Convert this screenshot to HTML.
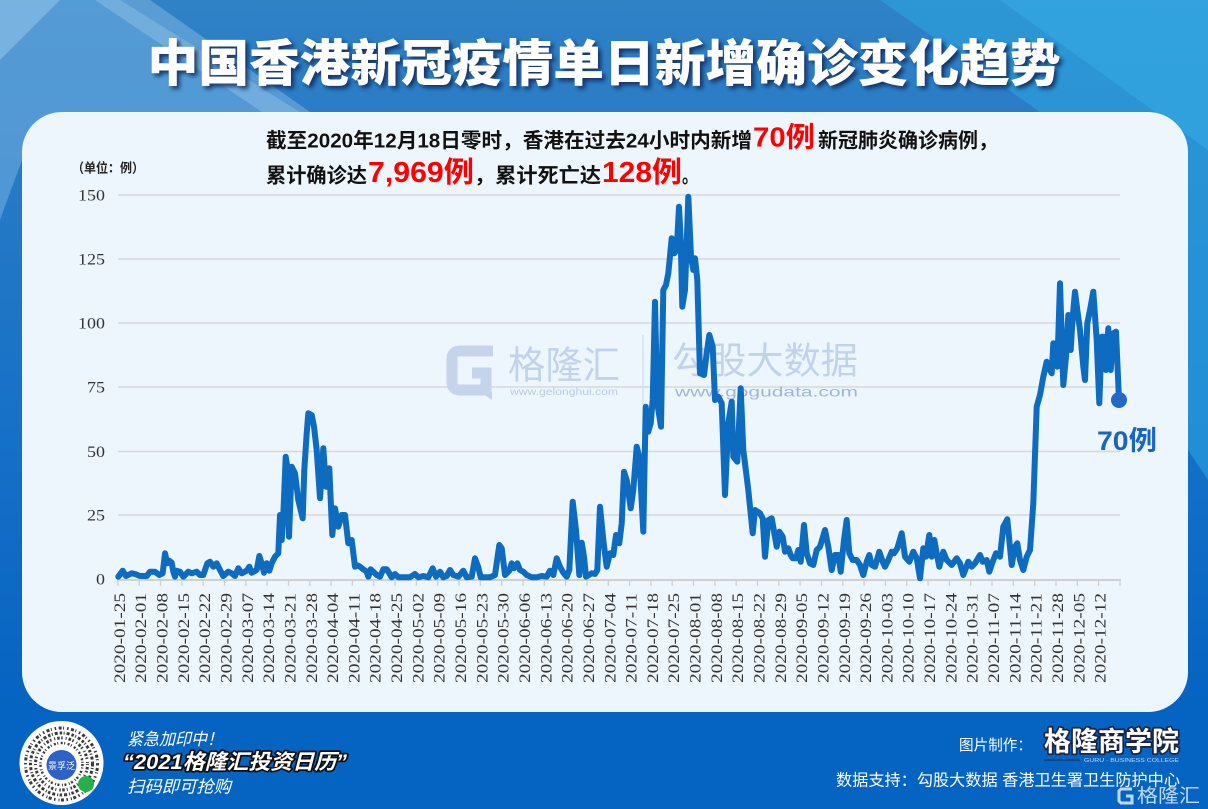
<!DOCTYPE html>
<html><head><meta charset="utf-8"><style>
html,body{margin:0;padding:0;width:1208px;height:809px;overflow:hidden;background:#0563c1}
svg{display:block}
.cj{font-family:"Liberation Sans","Noto Sans CJK SC",sans-serif}
.sf{font-family:"Liberation Serif","DejaVu Serif",serif}
</style></head><body>
<svg width="1208" height="809" viewBox="0 0 1208 809" xmlns="http://www.w3.org/2000/svg">
<defs>
<linearGradient id="bg" x1="0" y1="0" x2="0" y2="1">
<stop offset="0" stop-color="#2f82c6"/><stop offset="0.15" stop-color="#2a7cc6"/><stop offset="0.55" stop-color="#1570c7"/><stop offset="0.88" stop-color="#0563c1"/><stop offset="1" stop-color="#0563c1"/>
</linearGradient>
<filter id="sh" x="-5%" y="-30%" width="110%" height="160%"><feDropShadow dx="3" dy="3" stdDeviation="2" flood-color="#0a2553" flood-opacity="0.85"/></filter>
</defs>
<rect width="1208" height="809" fill="url(#bg)"/>
<polygon points="0,0 120,0 300,112 22,160 0,220" fill="#7ab6e4" opacity="0.5"/>
<polygon points="95,0 150,0 310,112 262,112" fill="#a9d0ef" opacity="0.35"/>
<polygon points="0,0 60,0 0,60" fill="#9ccaec" opacity="0.5"/>
<polygon points="880,0 1208,0 1208,480 1188,450 1040,112" fill="#2ba8e2" opacity="0.55"/>
<polygon points="1000,0 1208,0 1208,150" fill="#3cb4ea" opacity="0.4"/>

<text class="cj" x="604" y="81" text-anchor="middle" font-size="50" font-weight="900" fill="#ffffff" textLength="913" lengthAdjust="spacingAndGlyphs" filter="url(#sh)">中国香港新冠疫情单日新增确诊变化趋势</text>

<rect x="22" y="112" width="1166" height="600" rx="40" ry="40" fill="#eef6fd"/>

<!-- annotation -->
<g class="cj" font-weight="bold" fill="#111">
<text x="266" y="147.5" font-size="20.5" textLength="486" lengthAdjust="spacingAndGlyphs">截至2020年12月18日零时，香港在过去24小时内新增</text>
<text x="753" y="146.5" font-size="28" fill="#ff0000" textLength="62" lengthAdjust="spacingAndGlyphs">70例</text>
<text x="818" y="147.5" font-size="20.5" textLength="180" lengthAdjust="spacingAndGlyphs">新冠肺炎确诊病例，</text>
<text x="266" y="182.5" font-size="20.5" textLength="101" lengthAdjust="spacingAndGlyphs">累计确诊达</text>
<text x="368" y="182" font-size="29" fill="#ff0000" textLength="106" lengthAdjust="spacingAndGlyphs">7,969例</text>
<text x="474" y="182.5" font-size="20.5" textLength="127" lengthAdjust="spacingAndGlyphs">，累计死亡达</text>
<text x="602" y="182" font-size="29" fill="#ff0000" textLength="80" lengthAdjust="spacingAndGlyphs">128例</text>
<text x="682" y="182.5" font-size="20.5" textLength="16" lengthAdjust="spacingAndGlyphs">。</text>
<text x="72" y="172.5" font-size="13" fill="#222" textLength="72" lengthAdjust="spacingAndGlyphs">（单位：例）</text>
</g>

<!-- grid -->
<g stroke="#d5d8db" stroke-width="1.6">
<line x1="118" y1="195" x2="1120" y2="195"/>
<line x1="118" y1="259" x2="1120" y2="259"/>
<line x1="118" y1="323" x2="1120" y2="323"/>
<line x1="118" y1="387" x2="1120" y2="387"/>
<line x1="118" y1="451.5" x2="1120" y2="451.5"/>
<line x1="118" y1="515" x2="1120" y2="515"/>
</g>
<line x1="117" y1="580" x2="1121" y2="580" stroke="#d0d0d0" stroke-width="2"/>
<path stroke="#cfcfcf" stroke-width="1.3" fill="none" d="M117.9,580v6M139.2,580v6M160.5,580v6M181.9,580v6M203.2,580v6M224.5,580v6M245.8,580v6M267.1,580v6M288.5,580v6M309.8,580v6M331.1,580v6M352.4,580v6M373.7,580v6M395.1,580v6M416.4,580v6M437.7,580v6M459,580v6M480.3,580v6M501.7,580v6M523,580v6M544.3,580v6M565.6,580v6M586.9,580v6M608.3,580v6M629.6,580v6M650.9,580v6M672.2,580v6M693.5,580v6M714.9,580v6M736.2,580v6M757.5,580v6M778.8,580v6M800.1,580v6M821.5,580v6M842.8,580v6M864.1,580v6M885.4,580v6M906.7,580v6M928.1,580v6M949.4,580v6M970.7,580v6M992,580v6M1013.3,580v6M1034.7,580v6M1056,580v6M1077.3,580v6M1098.6,580v6M1120,580v6"/>

<!-- y labels -->
<g class="sf" font-size="16" fill="#333" text-anchor="end">
<text x="105" y="200.5" textLength="27" lengthAdjust="spacingAndGlyphs">150</text>
<text x="105" y="264.5" textLength="27" lengthAdjust="spacingAndGlyphs">125</text>
<text x="105" y="328.5" textLength="27" lengthAdjust="spacingAndGlyphs">100</text>
<text x="105" y="392.5" textLength="18" lengthAdjust="spacingAndGlyphs">75</text>
<text x="105" y="457" textLength="18" lengthAdjust="spacingAndGlyphs">50</text>
<text x="105" y="520.5" textLength="18" lengthAdjust="spacingAndGlyphs">25</text>
<text x="105" y="584.5" textLength="9" lengthAdjust="spacingAndGlyphs">0</text>
</g>

<!-- x labels -->
<g class="sf" font-size="16" fill="#333">
<text transform="translate(124.9,683) rotate(-90)" textLength="90" lengthAdjust="spacingAndGlyphs">2020-01-25</text>
<text transform="translate(146.2,683) rotate(-90)" textLength="90" lengthAdjust="spacingAndGlyphs">2020-02-01</text>
<text transform="translate(167.5,683) rotate(-90)" textLength="90" lengthAdjust="spacingAndGlyphs">2020-02-08</text>
<text transform="translate(188.9,683) rotate(-90)" textLength="90" lengthAdjust="spacingAndGlyphs">2020-02-15</text>
<text transform="translate(210.2,683) rotate(-90)" textLength="90" lengthAdjust="spacingAndGlyphs">2020-02-22</text>
<text transform="translate(231.5,683) rotate(-90)" textLength="90" lengthAdjust="spacingAndGlyphs">2020-02-29</text>
<text transform="translate(252.8,683) rotate(-90)" textLength="90" lengthAdjust="spacingAndGlyphs">2020-03-07</text>
<text transform="translate(274.1,683) rotate(-90)" textLength="90" lengthAdjust="spacingAndGlyphs">2020-03-14</text>
<text transform="translate(295.5,683) rotate(-90)" textLength="90" lengthAdjust="spacingAndGlyphs">2020-03-21</text>
<text transform="translate(316.8,683) rotate(-90)" textLength="90" lengthAdjust="spacingAndGlyphs">2020-03-28</text>
<text transform="translate(338.1,683) rotate(-90)" textLength="90" lengthAdjust="spacingAndGlyphs">2020-04-04</text>
<text transform="translate(359.4,683) rotate(-90)" textLength="90" lengthAdjust="spacingAndGlyphs">2020-04-11</text>
<text transform="translate(380.7,683) rotate(-90)" textLength="90" lengthAdjust="spacingAndGlyphs">2020-04-18</text>
<text transform="translate(402.1,683) rotate(-90)" textLength="90" lengthAdjust="spacingAndGlyphs">2020-04-25</text>
<text transform="translate(423.4,683) rotate(-90)" textLength="90" lengthAdjust="spacingAndGlyphs">2020-05-02</text>
<text transform="translate(444.7,683) rotate(-90)" textLength="90" lengthAdjust="spacingAndGlyphs">2020-05-09</text>
<text transform="translate(466,683) rotate(-90)" textLength="90" lengthAdjust="spacingAndGlyphs">2020-05-16</text>
<text transform="translate(487.3,683) rotate(-90)" textLength="90" lengthAdjust="spacingAndGlyphs">2020-05-23</text>
<text transform="translate(508.7,683) rotate(-90)" textLength="90" lengthAdjust="spacingAndGlyphs">2020-05-30</text>
<text transform="translate(530,683) rotate(-90)" textLength="90" lengthAdjust="spacingAndGlyphs">2020-06-06</text>
<text transform="translate(551.3,683) rotate(-90)" textLength="90" lengthAdjust="spacingAndGlyphs">2020-06-13</text>
<text transform="translate(572.6,683) rotate(-90)" textLength="90" lengthAdjust="spacingAndGlyphs">2020-06-20</text>
<text transform="translate(593.9,683) rotate(-90)" textLength="90" lengthAdjust="spacingAndGlyphs">2020-06-27</text>
<text transform="translate(615.3,683) rotate(-90)" textLength="90" lengthAdjust="spacingAndGlyphs">2020-07-04</text>
<text transform="translate(636.6,683) rotate(-90)" textLength="90" lengthAdjust="spacingAndGlyphs">2020-07-11</text>
<text transform="translate(657.9,683) rotate(-90)" textLength="90" lengthAdjust="spacingAndGlyphs">2020-07-18</text>
<text transform="translate(679.2,683) rotate(-90)" textLength="90" lengthAdjust="spacingAndGlyphs">2020-07-25</text>
<text transform="translate(700.5,683) rotate(-90)" textLength="90" lengthAdjust="spacingAndGlyphs">2020-08-01</text>
<text transform="translate(721.9,683) rotate(-90)" textLength="90" lengthAdjust="spacingAndGlyphs">2020-08-08</text>
<text transform="translate(743.2,683) rotate(-90)" textLength="90" lengthAdjust="spacingAndGlyphs">2020-08-15</text>
<text transform="translate(764.5,683) rotate(-90)" textLength="90" lengthAdjust="spacingAndGlyphs">2020-08-22</text>
<text transform="translate(785.8,683) rotate(-90)" textLength="90" lengthAdjust="spacingAndGlyphs">2020-08-29</text>
<text transform="translate(807.1,683) rotate(-90)" textLength="90" lengthAdjust="spacingAndGlyphs">2020-09-05</text>
<text transform="translate(828.5,683) rotate(-90)" textLength="90" lengthAdjust="spacingAndGlyphs">2020-09-12</text>
<text transform="translate(849.8,683) rotate(-90)" textLength="90" lengthAdjust="spacingAndGlyphs">2020-09-19</text>
<text transform="translate(871.1,683) rotate(-90)" textLength="90" lengthAdjust="spacingAndGlyphs">2020-09-26</text>
<text transform="translate(892.4,683) rotate(-90)" textLength="90" lengthAdjust="spacingAndGlyphs">2020-10-03</text>
<text transform="translate(913.7,683) rotate(-90)" textLength="90" lengthAdjust="spacingAndGlyphs">2020-10-10</text>
<text transform="translate(935.1,683) rotate(-90)" textLength="90" lengthAdjust="spacingAndGlyphs">2020-10-17</text>
<text transform="translate(956.4,683) rotate(-90)" textLength="90" lengthAdjust="spacingAndGlyphs">2020-10-24</text>
<text transform="translate(977.7,683) rotate(-90)" textLength="90" lengthAdjust="spacingAndGlyphs">2020-10-31</text>
<text transform="translate(999,683) rotate(-90)" textLength="90" lengthAdjust="spacingAndGlyphs">2020-11-07</text>
<text transform="translate(1020.3,683) rotate(-90)" textLength="90" lengthAdjust="spacingAndGlyphs">2020-11-14</text>
<text transform="translate(1041.7,683) rotate(-90)" textLength="90" lengthAdjust="spacingAndGlyphs">2020-11-21</text>
<text transform="translate(1063,683) rotate(-90)" textLength="90" lengthAdjust="spacingAndGlyphs">2020-11-28</text>
<text transform="translate(1084.3,683) rotate(-90)" textLength="90" lengthAdjust="spacingAndGlyphs">2020-12-05</text>
<text transform="translate(1105.6,683) rotate(-90)" textLength="90" lengthAdjust="spacingAndGlyphs">2020-12-12</text>
</g>

<!-- watermark -->
<g opacity="0.95">
<path d="M493,351 L460,351 Q452,351 452,359 L452,382 Q452,390 460,390 L486,390 L486,373 L472,373" fill="none" stroke="#c3d3ea" stroke-width="11"/>
<polygon points="480,392 492,392 492,400" fill="#c3d3ea"/>
<text class="cj" x="508" y="378.5" font-size="38" fill="#c0d1e9" textLength="112" lengthAdjust="spacingAndGlyphs">格隆汇</text>
<text class="cj" x="510" y="395" font-size="10" fill="#b7c8e1" textLength="108" lengthAdjust="spacingAndGlyphs">www.gelonghui.com</text>
<line x1="643" y1="335" x2="643" y2="405" stroke="#cfdbec" stroke-width="1.2"/>
<text class="cj" x="672" y="373.5" font-size="37" fill="#c0d1e9" textLength="186" lengthAdjust="spacingAndGlyphs">勾股大数据</text>
<text class="cj" x="675" y="396.5" font-size="14" fill="#9bb3d8" textLength="183" lengthAdjust="spacingAndGlyphs">www.gogudata.com</text>
</g>

<!-- series -->
<polyline fill="none" stroke="#0d6cc0" stroke-width="6" stroke-linejoin="round" stroke-linecap="round" points="118.3,576.7 122.7,570.7 126,576 131.7,573.3 135,574 140,576 146.7,576 150,571.7 155,571.7 159.3,575 162.7,573.3 165,553.3 167.3,563.3 169.3,560.7 171.7,562.7 173.3,571.7 175,576.7 176.7,570.7 180,571.7 183.3,576.7 188.3,571.7 191.7,573.3 196.7,571.7 200,575 203.3,575 207.3,563.3 210,561.7 213.3,566.7 216.7,563.3 220,570 223.3,576 228.3,571.7 231.7,573.3 235,576 238.3,568.3 241.7,573.3 246.7,570.7 249.3,566.7 251.7,572.7 256.7,570 259.3,556 261.7,563.3 264,572.7 266.7,563.3 269.3,570.7 271.7,563.3 275,556.7 278.3,553.3 280,515 281.7,540 283.3,515 285.7,456.7 287.3,466.7 289,536.7 291.7,466.7 295,473.3 298.3,500 302.7,518.3 304.3,470 306.7,433.3 308.3,413.3 311.7,415 314,426.7 316.7,450 320,498.3 323.3,448.3 326,486.7 329.3,468.3 332.3,535 335,508.3 338.3,526.7 341.7,515 345,515 348.3,543.3 351.7,540 355,566.7 356.7,565 360,566.7 363.3,569.3 366.7,571.7 368.3,576.7 370.7,569.3 373.3,571.7 376.7,575 380,576.7 383.3,569.3 386.7,569.3 389.3,573.3 391.7,577.3 395,574 398.3,577.3 403.3,577.3 410,577.3 415,574 418.3,577.3 423.3,576 428.3,577.3 432.7,568.3 436,576.7 440,571.7 443.3,577.3 446.7,576 450,570 453.3,575 458.3,576.7 463.3,570.7 466.7,577.3 471.7,576.7 475,558.3 478.3,567.3 480.7,577.3 490,577.3 495,575 499.3,545 501.7,548.3 505,575 509.3,570.7 511.7,563.3 514,568.3 517.3,563.3 520,570 523.3,571.7 526.7,575 531.7,577.3 536.7,577.3 541.7,576 546.7,576.7 550,570.7 553.3,575 556.7,558.3 560,566.7 563.3,572.7 566.7,576.7 569.3,570 572.7,501.7 576,530 579.3,575 581.7,542.7 584,556.7 586,576.7 591.7,573.3 595,574 597.3,570 600,506.7 603.3,540 606.7,566.7 610,553.3 613.3,555 616,535 619.3,543.3 621.7,523.3 624,471.7 626.7,480 630.7,508.3 633.3,490 636.7,446.7 639.3,456.7 643.3,531.7 645.7,406.7 648.3,431.7 650.7,423.3 652.7,400 655,301.7 657.3,403.3 661,426.7 663.3,290 666,285 668.3,273.3 671.7,238.3 674.3,253.3 676.7,250 679,206.7 680.7,240 682.3,306.7 685,290 686.7,243.3 688.3,196.7 691,256.7 693.3,270 695,258.3 697.3,280 700,373.3 704,375 706.7,353.3 709.3,335 712.7,346.7 715,400 718.3,396.7 721.7,403.3 725,495 728.3,423.3 731.7,401.7 733.3,456.7 737.3,461.7 740.7,388.3 743.3,450 748.3,490 752.7,533.3 755,510 760,513.3 762.7,518.3 765,556.7 768.3,520 771.7,518.3 776.7,546.7 779.3,531.7 782.7,536.7 785,551.7 788.3,548.3 790.7,555 792.7,558.3 796,558.3 798.3,550 800.7,561.7 804,525 806.7,553.3 810,563.3 813.3,565 816.7,550 820,546.7 825,530 828.3,546.7 831.7,570 835,555 838.3,555 840.7,571.7 844,540 846.7,520 849.3,553.3 852.7,560 856.7,560 860,565 863.3,575 866.7,561.7 869.3,555 871.7,565 875,566.7 879.3,551.7 882.7,561.7 885,566.7 888.3,560 891.7,551.7 894,553.3 897.3,548.3 901.7,533.3 905,556.7 909.3,561.7 913.3,551.7 916.7,558.3 920,578.3 923.3,548.3 926,556.7 929.3,535 931.7,556.7 934.3,540 936.7,553.3 939.3,566.7 943.3,551.7 946.7,560 951.7,565 956.7,558.3 960,563.3 963.3,575 968.3,561.7 971.7,566.7 975,563.3 980,555 982.7,561.7 986.7,560 989.3,571.7 992.7,561.7 996,553.3 1000,556.7 1003.3,526.7 1007.3,519.3 1011.7,565 1015,546.7 1017.3,543.3 1020,560 1023.3,570 1026.7,556.7 1030,550 1033.3,503.3 1036.7,406.7 1040,395 1043.3,376.7 1046.7,361.7 1050,370 1051.7,373.3 1053.3,343.3 1055,353.3 1057.3,366.7 1060,283.3 1061.7,336.7 1063.3,385 1066,356.7 1068.3,315 1070.7,350 1072.7,316.7 1075,291.7 1077.3,310 1080,330 1083.3,366.7 1085,380 1087.3,323.3 1090,310 1093.3,291.7 1096.7,340 1099.3,403.3 1101.7,336.7 1104,336.7 1106,370 1108.3,328.3 1110.7,370 1113.3,333.3 1116,331.7 1117.7,370 1119,400"/>
<circle cx="1119" cy="400" r="8" fill="#2468c6"/>
<text class="cj" x="1097" y="450" font-size="27" font-weight="bold" fill="#1b65c2" textLength="60" lengthAdjust="spacingAndGlyphs">70例</text>

<!-- bottom left QR -->
<circle cx="61.5" cy="763" r="42" fill="#ffffff"/>
<g fill="none" stroke="#3a3a3a">
<circle cx="61.5" cy="764" r="36" stroke-width="3" stroke-dasharray="1.5 2.5 3 1.5 1 3"/>
<circle cx="61.5" cy="764" r="31" stroke-width="3" stroke-dasharray="2.5 1.5 1 2 3 2"/>
<circle cx="61.5" cy="764" r="26" stroke-width="3" stroke-dasharray="1 2 2.5 1.5 1.5 3"/>
<circle cx="61.5" cy="764" r="21" stroke-width="2.5" stroke-dasharray="2 1.5 1 2.5"/>
</g>
<circle cx="61.5" cy="765" r="15" fill="#2f62c6"/>
<text class="cj" x="61.5" y="769" font-size="9" fill="#fff" text-anchor="middle">景孚泛</text>
<circle cx="86" cy="784" r="8" fill="#26b04a"/>

<g class="cj" fill="#ffffff">
<text x="127" y="745" font-size="17" font-style="italic" textLength="96" lengthAdjust="spacingAndGlyphs">紧急加印中！</text>
<text x="123" y="769" font-size="21" font-weight="bold" font-style="italic" stroke="#111" stroke-width="3.5" paint-order="stroke" stroke-linejoin="round" textLength="224" lengthAdjust="spacingAndGlyphs">“2021格隆汇投资日历”</text>
<text x="127" y="792.5" font-size="17" font-style="italic" textLength="104" lengthAdjust="spacingAndGlyphs">扫码即可抢购</text>
<text x="959" y="750" font-size="15" textLength="73" lengthAdjust="spacingAndGlyphs">图片制作：</text>
<text x="1044" y="751" font-size="27" font-weight="bold" stroke="#1b2440" stroke-width="3.5" paint-order="stroke" stroke-linejoin="round" textLength="135" lengthAdjust="spacingAndGlyphs">格隆商学院</text>
<line x1="1044" y1="760" x2="1080" y2="760" stroke="#1b2440" stroke-width="1"/>
<text x="1084" y="762" font-size="5" fill="#c8d6ee" textLength="95" lengthAdjust="spacingAndGlyphs">GURU · BUSINESS COLLEGE</text>
<text x="836" y="785.5" font-size="16" textLength="344" lengthAdjust="spacingAndGlyphs">数据支持：勾股大数据 香港卫生署卫生防护中心</text>
</g>
<g opacity="0.75">
<path d="M1132,789 L1121,789 L1119,791 L1119,801 L1121,803 L1132,803 L1132,796 L1126,796" fill="none" stroke="#ffffff" stroke-width="3"/>
<text class="cj" x="1137" y="802" font-size="19" fill="#ffffff" textLength="63" lengthAdjust="spacingAndGlyphs">格隆汇</text>
</g>
</svg>
</body></html>
